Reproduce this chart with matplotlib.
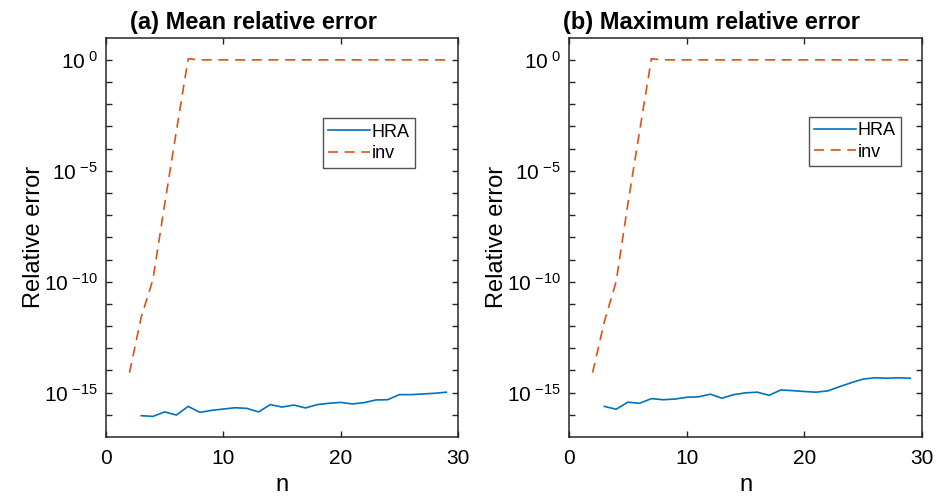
import numpy as np
import matplotlib
matplotlib.use("Agg")
import matplotlib.pyplot as plt
from matplotlib.ticker import FixedLocator, FuncFormatter, NullLocator

plt.rcParams['font.family'] = ['Liberation Sans', 'DejaVu Sans']
plt.rcParams['mathtext.fontset'] = 'custom'
plt.rcParams['mathtext.rm'] = 'Liberation Sans'
plt.rcParams['mathtext.it'] = 'Liberation Sans:italic'
plt.rcParams['mathtext.bf'] = 'Liberation Sans:bold'

# Problem sizes
n_inv = [2, 3, 4, 5, 6, 7, 8, 9, 10, 11, 12, 13, 14, 15, 16, 17, 18, 19, 20,
         21, 22, 23, 24, 25, 26, 27, 28, 29]
n_hra = [3, 4, 5, 6, 7, 8, 9, 10, 11, 12, 13, 14, 15, 16, 17, 18, 19, 20,
         21, 22, 23, 24, 25, 26, 27, 28, 29]

# log10 of the relative errors
mean_inv_log = [-14.1, -11.6, -9.9, -6.5, -3.2, 0.05, 0, 0, 0, 0, 0, 0, 0, 0,
                0, 0, 0, 0, 0, 0, 0, 0, 0, 0, 0, 0, 0, 0]
mean_hra_log = [-16.04, -16.07, -15.87, -16.01, -15.62, -15.89, -15.80, -15.74,
                -15.68, -15.71, -15.87, -15.54, -15.65, -15.56, -15.69, -15.54,
                -15.48, -15.44, -15.51, -15.45, -15.33, -15.32, -15.09, -15.09,
                -15.06, -15.03, -14.98]
max_inv_log = [-14.1, -11.8, -10.0, -6.5, -3.2, 0.05, 0, 0, 0, 0, 0, 0, 0, 0,
               0, 0, 0, 0, 0, 0, 0, 0, 0, 0, 0, 0, 0, 0]
max_hra_log = [-15.62, -15.75, -15.43, -15.48, -15.27, -15.32, -15.29, -15.21,
               -15.19, -15.07, -15.25, -15.09, -15.01, -14.98, -15.12, -14.88,
               -14.91, -14.95, -14.98, -14.92, -14.73, -14.55, -14.39, -14.33,
               -14.35, -14.33, -14.35]

titles = ['(a) Mean relative error', '(b) Maximum relative error']
blue = '#0072BD'
orange = '#D95319'
frame = '#262626'


def decade_label(v, pos):
    e = int(round(np.log10(v)))
    return r'$\mathregular{10^{\ {%d}}}$' % e


fig = plt.figure(figsize=(9.44, 4.98), dpi=100)
ax_rects = [[0.1123, 0.1225, 0.3729, 0.8018], [0.6028, 0.1225, 0.3739, 0.8018]]
title_x = [0.418, 0.405]
legend_anchor = [(0.616, 0.798), (0.679, 0.802)]
panels = [(mean_hra_log, mean_inv_log), (max_hra_log, max_inv_log)]

for i, (hra_log, inv_log) in enumerate(panels):
    ax = fig.add_axes(ax_rects[i])
    ax.semilogy(n_hra, 10.0 ** np.array(hra_log), color=blue, lw=1.2, label='HRA')
    ax.semilogy(n_inv, 10.0 ** np.array(inv_log), color=orange, lw=1.2,
                ls=(0, (6, 4)), label='inv')
    ax.set_xlim(0, 30)
    ax.set_ylim(1e-17, 1e1)
    ax.set_xticks([0, 10, 20, 30])
    ax.yaxis.set_major_locator(FixedLocator([1e-15, 1e-10, 1e-5, 1e0]))
    ax.yaxis.set_major_formatter(FuncFormatter(decade_label))
    ax.yaxis.set_minor_locator(FixedLocator([10.0 ** k for k in range(-16, 1)]))
    ax.yaxis.set_minor_formatter(FuncFormatter(lambda v, p: ''))
    ax.xaxis.set_minor_locator(NullLocator())
    ax.tick_params(which='both', direction='in', top=True, right=True,
                   colors=frame, labelcolor='black', width=1.0)
    ax.tick_params(which='major', length=4, labelsize=15)
    ax.tick_params(which='minor', length=4)
    ax.tick_params(axis='x', which='major', pad=9)
    ax.tick_params(axis='y', which='major', pad=6)
    for s in ax.spines.values():
        s.set_color(frame)
        s.set_linewidth(1.1)
    ax.set_xlabel('n', fontsize=17, labelpad=4)
    ax.set_ylabel('Relative error', fontsize=17, labelpad=-1)
    ax.text(title_x[i], 1.01, titles[i], transform=ax.transAxes, ha='center',
            va='bottom', fontsize=17, fontweight='bold')
    leg = ax.legend(loc='upper left', bbox_to_anchor=legend_anchor[i],
                    fontsize=13, frameon=True, fancybox=False, handlelength=2.3,
                    handletextpad=0.1, borderpad=0.3, labelspacing=0.25,
                    borderaxespad=0)
    leg.get_frame().set_edgecolor(frame)
    leg.get_frame().set_linewidth(1.0)

fig.savefig('out.png', dpi=100)
